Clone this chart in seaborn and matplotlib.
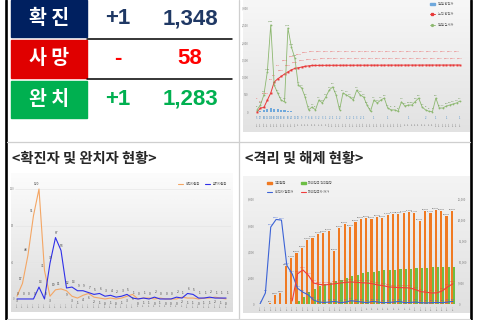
import numpy as np
import pandas as pd
import matplotlib
matplotlib.use("Agg")
import matplotlib.pyplot as plt
import seaborn as sns
from matplotlib.colors import LinearSegmentedColormap
from matplotlib.patches import Rectangle, Patch
from matplotlib.lines import Line2D

# ---------------- data ----------------
status_names = ["확 진", "사 망", "완 치"]
status_change = ["+1", "-", "+1"]
status_total = ["1,348", "58", "1,283"]

# top-right panel (daily confirmed bars, cumulative confirmed, daily tests)
tr_dates = [f"{d.month}/{d.day}" for d in pd.date_range("2020-02-18", periods=60)]
tr_daily_conf = [5, 17, 48, 91, 120, 80, 100, 60, 45, 30,
                 20, 12, 10, 9, 7, 6, 4, 3, 2, 3,
                 1, 2, 1, 1, 2, 0, 1, 2, 1, 3,
                 2, 1, 0, 0, 1, 0, 0, 0, 1, 0,
                 0, 0, 0, 0, 1, 0, 0, 0, 0, 2,
                 0, 0, 1, 0, 0, 1, 0, 0, 0, 1]
tr_cum_conf = [0, 115, 130, 340, 545, 860, 950, 1020, 1090, 1150,
               1210, 1250, 1270, 1290, 1310, 1325, 1335, 1337, 1338, 1339,
               1340, 1340, 1341, 1341, 1341, 1342, 1342, 1342, 1342, 1343,
               1343, 1343, 1343, 1344, 1344, 1344, 1344, 1344, 1345, 1345,
               1345, 1345, 1345, 1346, 1346, 1346, 1346, 1346, 1346, 1347,
               1347, 1347, 1347, 1347, 1347, 1347, 1348, 1348, 1348, 1348]
tr_daily_test = [60, 200, 490, 1150, 2500, 775, 545, 345, 290, 2410,
                 1865, 1550, 775, 690, 430, 60, 145, 60, 345, 260,
                 430, 630, 720, 490, 60, 545, 490, 430, 345, 630,
                 490, 430, 200, 20, 345, 260, 345, 400, 115, 60,
                 60, 20, 290, 170, 200, 200, 300, 400, 145, 60,
                 20, 10, 400, 115, 115, 170, 200, 230, 260, 315]
tr_legend = ["일일 확진자", "누적 확진자", "일일 검사자"]

# bottom-left panel
bl_title = "<확진자 및 완치자 현황>"
bl_dates = [f"{d.month}/{d.day}" for d in pd.date_range("2020-03-10", periods=39)]
bl_confirmed = [3, 17, 48, 91, 120, 31, 3, 10, 11, 9,
                3, 1, 4, 6, 2, 1, 0, 1, 0, 1,
                3, 5, 0, 1, 1, 0, 1, 0, 0, 0,
                2, 1, 1, 0, 1, 1, 2, 1, 0]
bl_recovered = [0, 0, 0, 0, 13, 0, 39, 67, 53, 12,
                13, 9, 9, 7, 5, 6, 3, 4, 2, 3,
                5, 1, 0, 1, 0, 2, 0, 0, 0, 2,
                1, 6, 5, 1, 1, 2, 1, 1, 1]
bl_legend = ["확진자현황", "완치자현황"]

# bottom-right panel
br_title = "<격리 및 해제 현황>"
br_dates = [f"{d.month}/{d.day}" for d in pd.date_range("2020-03-12", periods=37)]
br_isolated = [0, 0, 300, 2100, 2600, 9000, 11000, 12100, 13300, 15200,
               15700, 16700, 16900, 17400, 12600, 18100, 19000, 18300, 19500, 20200,
               20400, 20200, 20700, 20400, 21200, 21400, 21500, 21700, 21900, 21700,
               19700, 22100, 21700, 22300, 22100, 20900, 22100]
br_released = [0, 0, 0, 0, 0, 0, 0, 800, 1600, 2800,
               3600, 4200, 4700, 5100, 5500, 5800, 6200, 6600, 7000, 7300,
               7500, 7700, 7900, 8000, 8100, 8200, 8300, 8400, 8400, 8500,
               8600, 8600, 8700, 8700, 8800, 8800, 8800]
br_contacts = [0, 840, 5870, 6450, 6400, 2950, 2300, 1200, 900, 700,
               300, 150, 120, 150, 200, 100, 150, 250, 200, 150,
               100, 200, 150, 100, 120, 150, 200, 100, 120, 150,
               100, 80, 100, 120, 100, 150, 200]
br_overseas = [np.nan] * 6 + [230, 2300, 2600, 2200, 1600, 1500, 1450, 1500, 1550, 1600,
                              1650, 1680, 1650, 1620, 1600, 1550, 1450, 1400, 1300, 1280,
                              1250, 1240, 1220, 1100, 940, 900, 840, 850, 1000, 1300, 1550]
br_legend = ["격리현황", "해외입국 격리현황", "확진자 접촉자", "해외입국자 자가"]

# ---------------- style ----------------
sns.set_theme(style="white")
plt.rcParams["font.family"] = ["Noto Sans CJK KR", "DejaVu Sans"]
plt.rcParams["axes.unicode_minus"] = False

W, H = 480, 320
fig = plt.figure(figsize=(W / 100, H / 100), dpi=100)
fig.patch.set_facecolor("white")


def frac(x0, y0, x1, y1):
    return [x0 / W, 1 - y1 / H, (x1 - x0) / W, (y1 - y0) / H]


bg = fig.add_axes([0, 0, 1, 1])
bg.set_zorder(0)
bg.axis("off")


def gradient_box(x0, y0, x1, y1, top, bottom):
    cmap = LinearSegmentedColormap.from_list("g", [top, bottom])
    bg.imshow(np.linspace(0, 1, 128).reshape(-1, 1), cmap=cmap, aspect="auto",
              extent=[x0, x1, y1, y0], interpolation="bicubic", zorder=1)


gradient_box(243, 0, 470, 132, "#f7f7f7", "#e2e2e2")
gradient_box(11, 173, 233, 312, "#fcfcfc", "#dcdcdc")
gradient_box(243, 176, 470, 313, "#f4f4f4", "#e0e0e0")

# table
cell_colors = ["#002060", "#E00000", "#00B050"]
num_colors = ["#1F3864", "#FF0000", "#00B050"]
cell_rows = [(0, 37), (40, 77.5), (80.5, 118)]
num_font = ["Liberation Sans Narrow", "Liberation Sans", "DejaVu Sans"]
for (y0, y1), name, ch, tot, cc, nc in zip(cell_rows, status_names, status_change,
                                          status_total, cell_colors, num_colors):
    bg.add_patch(Rectangle((11, y0), 76, y1 - y0, color=cc, zorder=2))
    yc = (y0 + y1) / 2
    bg.text(49, yc, name, color="white", fontsize=14, fontweight="bold",
            ha="center", va="center", zorder=3)
    bg.text(118, yc, ch, color=nc, fontsize=16, fontweight="bold", family=num_font,
            ha="center", va="center", zorder=3)
    bg.text(190, yc, tot, color=nc, fontsize=16, fontweight="bold", family=num_font,
            ha="center", va="center", zorder=3)
bg.plot([87, 232], [38.6, 38.6], color="black", lw=1.1, zorder=3)
bg.plot([87, 232], [79.2, 79.2], color="black", lw=1.1, zorder=3)

# frame lines
bg.plot([5.5, 5.5], [0, H], color="black", lw=1.9, zorder=3)
bg.plot([470.8, 470.8], [0, H], color="black", lw=1.9, zorder=3)
bg.plot([238.5, 238.5], [0, H], color="#cfcfcf", lw=0.9, zorder=3)
bg.plot([6.5, 470], [142, 142], color="#cfcfcf", lw=0.9, zorder=3)
bg.plot([6.5, 470], [318.5, 318.5], color="#d8d8d8", lw=0.8, zorder=3)

bg.text(12, 159, bl_title, fontsize=10.3, fontweight="bold", ha="left", va="center", zorder=3)
bg.text(245, 159, br_title, fontsize=10.3, fontweight="bold", ha="left", va="center", zorder=3)
bg.set_xlim(0, W)
bg.set_ylim(H, 0)

tick_kw = dict(length=0, colors="#808080")


def clean(ax):
    for s in ax.spines.values():
        s.set_visible(False)
    ax.set_facecolor("none")
    ax.set_xlabel("")
    ax.set_ylabel("")


# ---------------- top-right ----------------
ax1 = fig.add_axes(frac(250, 4, 465, 121))
ax1.set_zorder(2)
xs = list(range(len(tr_dates)))
c_blue, c_red, c_green = "#6FA8DC", "#E83A3A", "#8DB870"
sns.barplot(x=xs, y=tr_daily_conf, color=c_blue, width=0.6, saturation=1,
            linewidth=0, ax=ax1)
sns.lineplot(x=xs, y=tr_cum_conf, color=c_red, lw=0.7, marker="s", markersize=1.4,
             markeredgewidth=0, ax=ax1)
sns.lineplot(x=xs, y=tr_daily_test, color=c_green, lw=0.6, marker="o", markersize=1.3,
             markeredgewidth=0, ax=ax1)
for i, v in enumerate(tr_cum_conf):
    ax1.text(i, v + (170 if i % 2 else 380), f"{v:,}", fontsize=1.7, color=c_red,
             ha="center", va="bottom")
for i, v in enumerate(tr_daily_test):
    ax1.text(i, v + 70, f"{v:,}", fontsize=1.5, color="#5E8C45", ha="center", va="bottom")
for i, v in enumerate(tr_daily_conf):
    if v > 0:
        ax1.text(i, -160, f"{v}", fontsize=1.8, color="#3D85C6", ha="center", va="center")
ax1.set_xlim(-2.03, 60.47)
ax1.set_ylim(-258, 3100)
ax1.set_yticks(range(0, 3001, 500))
ax1.set_yticklabels([f"{t:,}" for t in range(0, 3001, 500)])
ax1.set_xticks(xs)
ax1.set_xticklabels(tr_dates, rotation=90)
ax1.tick_params(axis="y", labelsize=2, pad=1, **tick_kw)
ax1.tick_params(axis="x", labelsize=1.5, pad=0.5, **tick_kw)
clean(ax1)
h1 = [Patch(color=c_blue), Line2D([], [], color=c_red, lw=0.7, marker="s", markersize=1.4),
      Line2D([], [], color=c_green, lw=0.6, marker="o", markersize=1.3)]
ax1.legend(h1, tr_legend, loc="upper left", bbox_to_anchor=(428 / W, 1 - 0 / H),
           bbox_transform=fig.transFigure, fontsize=2.3, frameon=False,
           labelspacing=2.0, handlelength=1.6, borderaxespad=0.2, labelcolor="#606060")

# ---------------- bottom-left ----------------
ax2 = fig.add_axes(frac(15, 178, 231, 302))
ax2.set_zorder(2)
xb = list(range(len(bl_dates)))
c_or, c_bl = "#F4A664", "#2F2FE8"
sns.lineplot(x=xb, y=bl_confirmed, color=c_or, lw=0.8, ax=ax2)
sns.lineplot(x=xb, y=bl_recovered, color=c_bl, lw=0.8, ax=ax2)
for i, v in enumerate(bl_confirmed):
    if v >= 10:
        ax2.text(i - 0.4, v + 3, f"{v}", fontsize=2.3, color="#404040", ha="center", va="bottom")
    else:
        ax2.text(i, v - 3, f"{v}", fontsize=2.3, color="#404040", ha="center", va="top")
for i, v in enumerate(bl_recovered):
    ax2.text(i + 0.2, v + 3, f"{v}", fontsize=2.3, color="#404040", ha="center", va="bottom")
ax2.set_xlim(-0.36, 38.9)
ax2.set_ylim(-3.3, 132)
ax2.set_yticks([0, 40, 80, 120])
ax2.grid(axis="y", color="#e4e4e4", lw=0.4)
ax2.set_xticks(xb)
ax2.set_xticklabels(bl_dates, rotation=90)
ax2.tick_params(axis="y", labelsize=2, pad=0.5, **tick_kw)
ax2.tick_params(axis="x", labelsize=1.6, pad=0.5, **tick_kw)
clean(ax2)
h2 = [Line2D([], [], color=c_or, lw=0.8), Line2D([], [], color=c_bl, lw=0.8)]
ax2.legend(h2, bl_legend, loc="upper right", bbox_to_anchor=(230 / W, 1 - 179 / H),
           bbox_transform=fig.transFigure, ncol=2, fontsize=2.3, frameon=False,
           handlelength=1.6, columnspacing=1.5, labelcolor="#606060")

# ---------------- bottom-right ----------------
ax3 = fig.add_axes(frac(256, 196, 457, 304))
ax3.set_zorder(2)
xr = list(range(len(br_dates)))
c_bar1, c_bar2, c_l1, c_l2 = "#F07A22", "#6DBE45", "#3C63D6", "#F03C3C"
bars = pd.DataFrame({"idx": xr * 2,
                     "value": br_isolated + br_released,
                     "series": [br_legend[0]] * len(xr) + [br_legend[1]] * len(xr)})
sns.barplot(data=bars, x="idx", y="value", hue="series", palette=[c_bar1, c_bar2],
            width=0.8, saturation=1, linewidth=0, legend=False, ax=ax3)
ax3.set_ylim(0, 25700)
for i, v in enumerate(br_isolated):
    if v > 0:
        ax3.text(i - 0.2, v + 250, f"{v:,}", fontsize=1.7, color="#404040", ha="center", va="bottom")

ax3b = ax3.twinx()
ax3b.set_zorder(3)
sns.lineplot(x=xr, y=br_contacts, color=c_l1, lw=0.8, ax=ax3b)
sns.lineplot(x=xr, y=br_overseas, color=c_l2, lw=0.8, ax=ax3b)
for i, v in enumerate(br_contacts):
    ax3b.text(i, v + 120, f"{v:,}", fontsize=1.7, color=c_l1, ha="center", va="bottom")
for i, v in enumerate(br_overseas):
    if not np.isnan(v):
        ax3b.text(i, v + 120, f"{int(v):,}", fontsize=1.7, color=c_l2, ha="center", va="bottom")
ax3b.set_ylim(0, 8240)
ax3b.set_yticks(range(0, 8001, 2000))
ax3b.set_yticklabels([f"{t:,}" for t in range(0, 8001, 2000)])
ax3.set_yticks(range(0, 25001, 5000))
ax3.set_yticklabels([f"{t:,}" for t in range(0, 25001, 5000)])
# bars' scale on the right, lines' scale on the left
ax3.yaxis.tick_right()
ax3b.yaxis.tick_left()
ax3.set_xlim(-0.75, 36.75)
ax3.set_xticks(xr)
ax3.set_xticklabels(br_dates, rotation=90)
for a in (ax3, ax3b):
    a.tick_params(axis="y", labelsize=2, pad=1, **tick_kw)
    clean(a)
ax3.tick_params(axis="x", labelsize=1.6, pad=1, **tick_kw)
h3 = [Patch(color=c_bar1), Line2D([], [], color=c_l1, lw=0.8),
      Patch(color=c_bar2), Line2D([], [], color=c_l2, lw=0.8)]
ax3b.legend(h3, [br_legend[0], br_legend[2], br_legend[1], br_legend[3]], loc="upper left",
            bbox_to_anchor=(264 / W, 1 - 178 / H), bbox_transform=fig.transFigure, ncol=2,
            fontsize=2.3, frameon=False, handlelength=1.6, columnspacing=2.5,
            labelspacing=1.6, labelcolor="#606060")

fig.savefig("out.png", dpi=100, facecolor="white")
